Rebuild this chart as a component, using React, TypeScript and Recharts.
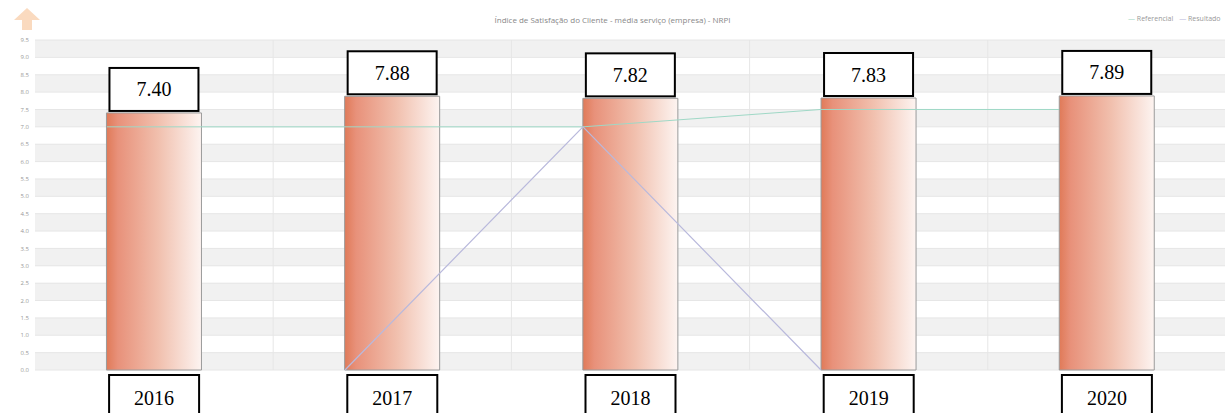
import React from 'react';
import {
  ComposedChart,
  Bar,
  Line,
  XAxis,
  YAxis,
  CartesianGrid,
  LabelList,
} from 'recharts';

const years = ['2016', '2017', '2018', '2019', '2020'];
const satisfaction = [7.4, 7.88, 7.82, 7.83, 7.89];
const referencial = [7.0, 7.0, 7.0, 7.5, 7.5];
const resultado = [null, 0, 7.0, 0, null];
const yTicks = [0, 0.5, 1, 1.5, 2, 2.5, 3, 3.5, 4, 4.5, 5, 5.5, 6, 6.5, 7, 7.5, 8, 8.5, 9, 9.5];

const TITLE = 'Índice de Satisfação do Cliente - média serviço (empresa) - NRPI';

const data = years.map((y, i) => ({
  year: y,
  yearNum: Number(y),
  satisfaction: satisfaction[i],
  referencial: referencial[i],
  resultado: resultado[i],
}));

const SERIF = '"Liberation Serif", "Times New Roman", serif';
const SANS = '"Open Sans", "Noto Sans", sans-serif';

const ValueBox = (props: any) => {
  const { x, y, width, value } = props;
  const bx = x + 3;
  const bw = width - 6;
  const bh = 43;
  const by = y - bh - 2;
  return (
    <g>
      <rect x={bx} y={by} width={bw} height={bh} fill="#fff" stroke="#000" strokeWidth={2} />
      <text
        x={bx + bw / 2}
        y={by + bh / 2 + 7}
        textAnchor="middle"
        fontFamily={SERIF}
        fontSize={20}
        fill="#000"
      >
        {Number(value).toFixed(2)}
      </text>
    </g>
  );
};

const YearTick = (props: any) => {
  const { x, y, payload } = props;
  const bw = 90;
  const bh = 44;
  const by = y + 3;
  return (
    <g>
      <rect x={x - bw / 2} y={by} width={bw} height={bh} fill="#fff" stroke="#000" strokeWidth={2} />
      <text x={x} y={by + 30} textAnchor="middle" fontFamily={SERIF} fontSize={20} fill="#000">
        {payload.value}
      </text>
    </g>
  );
};

export default function App() {
  return (
    <div style={{ position: 'absolute', left: 0, top: 0, width: 1225, height: 413, overflow: 'hidden', background: '#fff' }}>
      <svg width={30} height={26} style={{ position: 'absolute', left: 12, top: 6, opacity: 0.4 }}>
        <polygon points="15,2 28,14 20,14 20,24 10,24 10,14 2,14" fill="#f4a460" />
      </svg>
      <div
        style={{
          position: 'absolute',
          top: 14,
          left: 0,
          width: 1225,
          textAlign: 'center',
          fontFamily: SANS,
          fontSize: 8,
          color: '#888',
        }}
      >
        {TITLE}
      </div>
      <div
        style={{
          position: 'absolute',
          top: 14,
          left: 1128,
          display: 'flex',
          gap: 6,
          fontFamily: SANS,
          fontSize: 7,
          color: '#999',
          whiteSpace: 'nowrap',
        }}
      >
        <span>
          <span style={{ color: '#9fd8c6' }}>—</span> Referencial
        </span>
        <span>
          <span style={{ color: '#b9b9dc' }}>—</span> Resultado
        </span>
      </div>
      <ComposedChart
        width={1226}
        height={413}
        data={data}
        margin={{ top: 40, right: 0, bottom: 0, left: 0 }}
        barCategoryGap="30%"
        style={{ position: 'absolute', left: 0, top: 0 }}
      >
        <defs>
          <linearGradient id="barGrad" x1="0" y1="0" x2="1" y2="0">
            <stop offset="0%" stopColor="#e07a58" />
            <stop offset="12%" stopColor="#e8917a" />
            <stop offset="55%" stopColor="#f1c0ae" />
            <stop offset="100%" stopColor="#fdf4f1" />
          </linearGradient>
        </defs>
        <CartesianGrid
          stroke="#e6e6e6"
          horizontalFill={['#f1f1f1', '#ffffff']}
          verticalCoordinatesGenerator={({ offset }: any) =>
            years.slice(1).map((_, i) => offset.left + (offset.width * (i + 1)) / years.length)
          }
        />
        <XAxis
          xAxisId="cat"
          dataKey="year"
          axisLine={false}
          tickLine={false}
          tickSize={0}
          height={43}
          tick={<YearTick />}
          interval={0}
        />
        <XAxis
          xAxisId="num"
          dataKey="yearNum"
          type="number"
          domain={[2015.6975, 2020.7017]}
          hide
          allowDataOverflow
        />
        <YAxis
          domain={[0, 9.5]}
          ticks={yTicks}
          width={35}
          axisLine={false}
          tickLine={false}
          tickSize={0}
          tickMargin={6}
          tick={{ fontSize: 6, fill: '#999', fontFamily: SANS }}
          tickFormatter={(v: number) => v.toFixed(1)}
          interval={0}
        />
        <Line
          xAxisId="num"
          dataKey="referencial"
          name="Referencial"
          stroke="#9fd8c6"
          strokeWidth={1}
          dot={false}
          isAnimationActive={false}
        />
        <Bar
          xAxisId="cat"
          dataKey="satisfaction"
          fill="url(#barGrad)"
          stroke="#9a9a9a"
          strokeWidth={1}
          isAnimationActive={false}
        >
          <LabelList dataKey="satisfaction" content={<ValueBox />} />
        </Bar>
        <Line
          xAxisId="num"
          dataKey="resultado"
          name="Resultado"
          stroke="#b9b9dc"
          strokeWidth={1.2}
          dot={false}
          isAnimationActive={false}
        />
      </ComposedChart>
    </div>
  );
}
